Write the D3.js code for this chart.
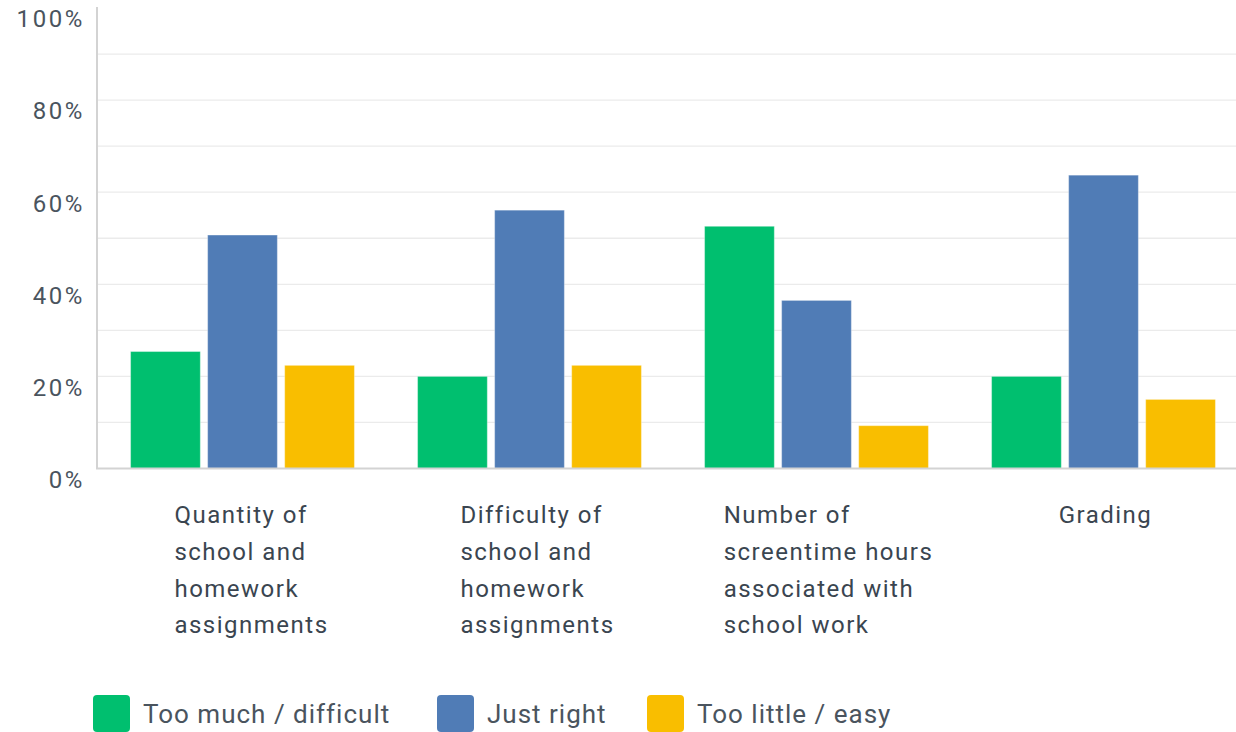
<!DOCTYPE html>
<html><head><meta charset="utf-8">
<script src="https://cdn.jsdelivr.net/npm/d3@7"></script>
<style>
html,body{margin:0;padding:0;background:#fff;}
svg{display:block;font-family:Roboto, "Noto Sans", sans-serif;}
</style></head>
<body>
<svg id="chart" width="1236" height="732"></svg>
<script>
const categories = [
  ["Quantity of", "school and", "homework", "assignments"],
  ["Difficulty of", "school and", "homework", "assignments"],
  ["Number of", "screentime hours", "associated with", "school work"],
  ["Grading"]
];
const seriesNames = ["Too much / difficult", "Just right", "Too little / easy"];
const seriesColors = ["#00BF6F", "#507CB6", "#F9BE00"];
const tooMuch = [25.4, 20.0, 52.6, 20.0];
const justRight = [50.7, 56.1, 36.5, 63.7];
const tooLittle = [22.4, 22.4, 9.3, 15.0];
const yTicks = [0, 20, 40, 60, 80, 100];
const gridTicks = [10, 20, 30, 40, 50, 60, 70, 80, 90];

const series = [tooMuch, justRight, tooLittle];
const svg = d3.select("#chart");
const textColor = "#3a4550";

const x0 = d3.scaleBand().domain(d3.range(categories.length)).range([99, 1247]).padding(0);
const x1 = d3.scaleBand().domain(d3.range(series.length)).range([0, x0.bandwidth()])
  .paddingInner(0.095).paddingOuter(0.41);
const y = d3.scaleLinear().domain([0, 100]).range([468.5, 8]);

// gridlines
svg.append("g").selectAll("line").data(gridTicks).join("line")
  .attr("x1", 97).attr("x2", 1236)
  .attr("y1", d => y(d)).attr("y2", d => y(d))
  .attr("stroke", "#ebebeb").attr("stroke-width", 1.3);

// y labels
svg.append("g").selectAll("text").data(yTicks).join("text")
  .attr("x", 85).attr("y", d => y(d) + 13)
  .attr("text-anchor", "end").attr("dominant-baseline", "middle")
  .attr("font-size", 24).attr("letter-spacing", 2.6).attr("fill", "#4a545e")
  .text(d => d + "%");

// bars
const groups = svg.append("g").selectAll("g").data(categories).join("g")
  .attr("transform", (d, i) => `translate(${x0(i)},0)`);
groups.selectAll("rect").data((d, i) => series.map((s, j) => ({ j, v: s[i] }))).join("rect")
  .attr("x", d => x1(d.j)).attr("width", x1.bandwidth())
  .attr("y", d => y(d.v)).attr("height", d => y(0) - y(d.v))
  .attr("fill", d => seriesColors[d.j])
  .attr("stroke", "rgba(255,255,255,0.35)").attr("stroke-width", 1);

// axes lines
svg.append("line").attr("x1", 97).attr("x2", 97).attr("y1", 7).attr("y2", 469)
  .attr("stroke", "#d3d3d3").attr("stroke-width", 2);
svg.append("line").attr("x1", 96).attr("x2", 1236).attr("y1", y(0)).attr("y2", y(0))
  .attr("stroke", "#d3d3d3").attr("stroke-width", 2);

// category labels
const labelShift = [9, 8, 12, 2];
groups.each(function(lines, i) {
  const g = d3.select(this);
  const t = g.append("text").attr("font-size", 24).attr("fill", textColor)
    .attr("letter-spacing", 1.5);
  lines.forEach((ln, k) => {
    t.append("tspan").attr("y", 523 + k * 36.8).text(ln);
  });
  let maxW = 0;
  t.selectAll("tspan").each(function() { maxW = Math.max(maxW, this.getComputedTextLength()); });
  const cx = x0.bandwidth() / 2 + labelShift[i];
  t.selectAll("tspan").attr("x", cx - maxW / 2);
});

// legend
const legendX = [93, 437, 647];
const lg = svg.append("g").selectAll("g").data(seriesNames).join("g")
  .attr("transform", (d, i) => `translate(${legendX[i]},695)`);
lg.append("rect").attr("width", 37).attr("height", 37).attr("rx", 4)
  .attr("fill", (d, i) => seriesColors[i]);
lg.append("text").attr("x", 50).attr("y", 21).attr("dominant-baseline", "middle")
  .attr("font-size", 26).attr("letter-spacing", 1.0).attr("fill", "#4a545e").text(d => d);
</script>
</body></html>
